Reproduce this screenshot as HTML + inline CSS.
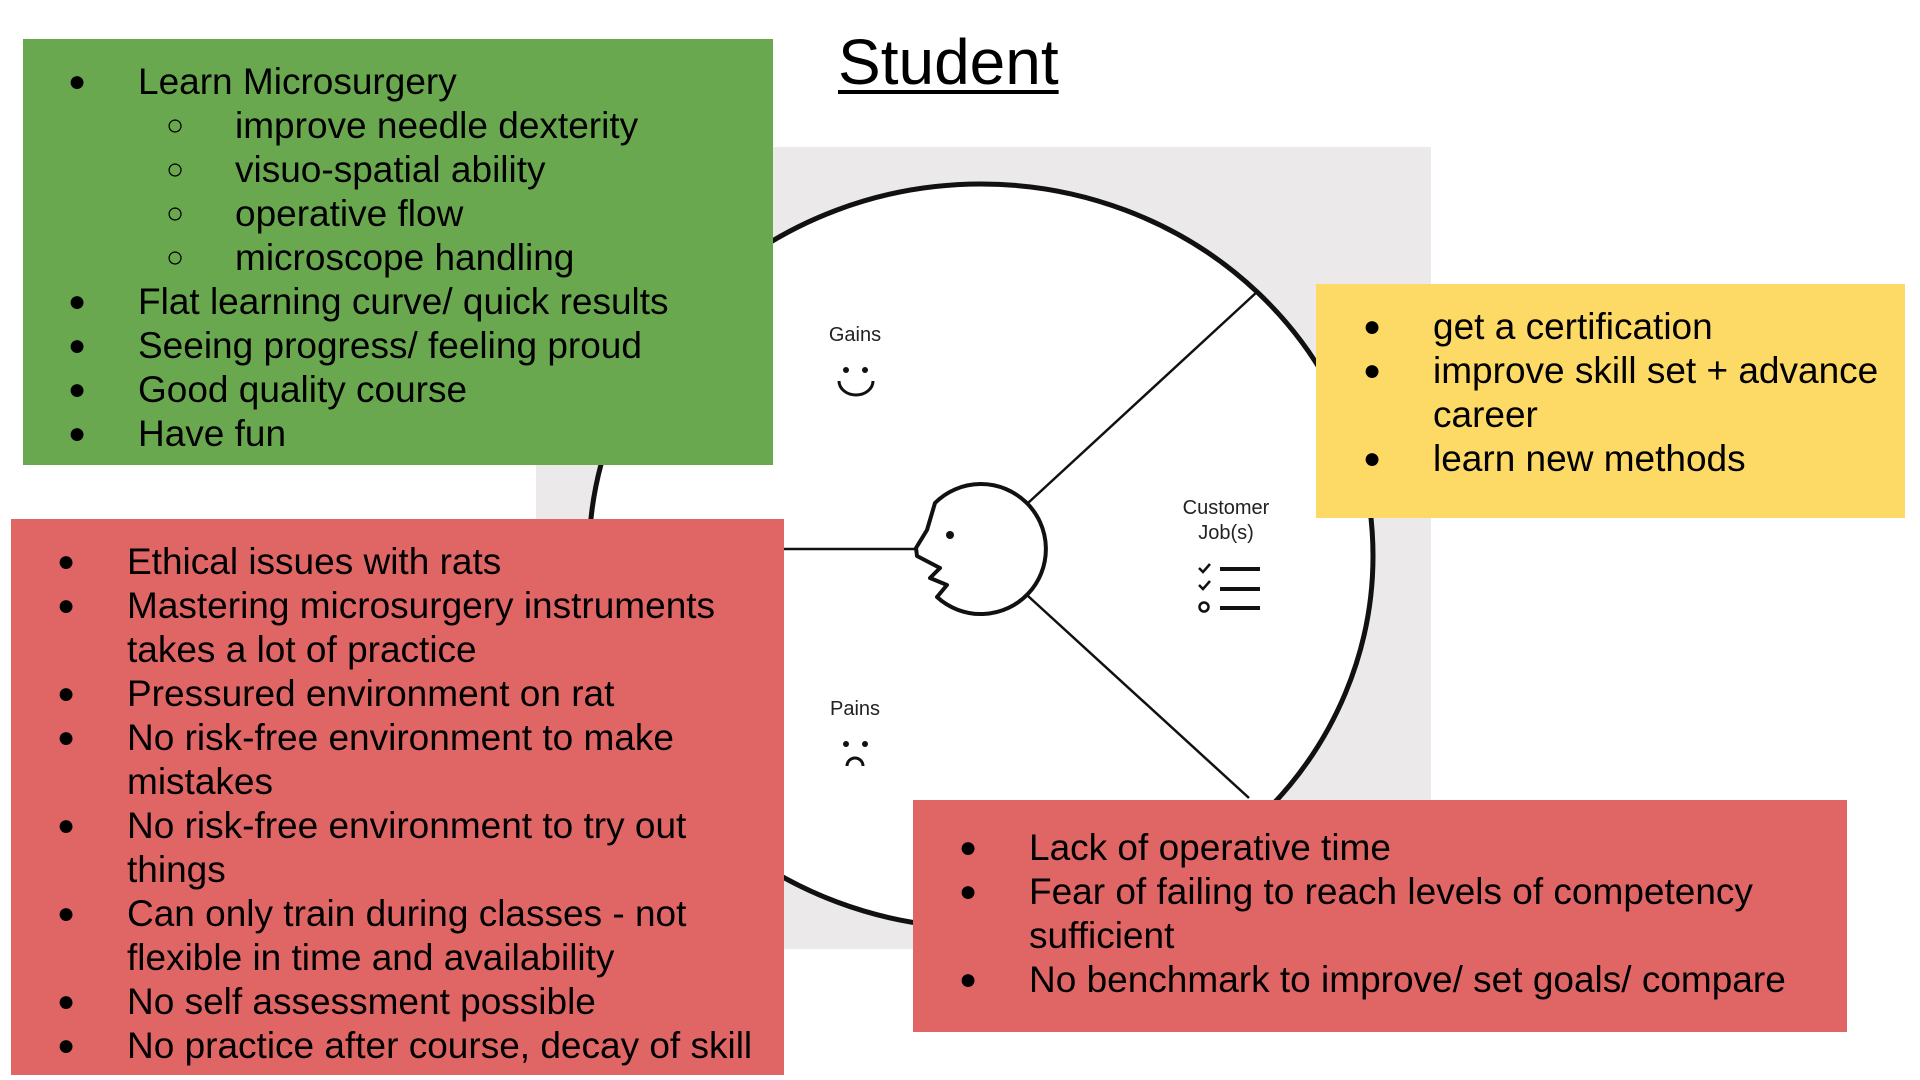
<!DOCTYPE html>
<html><head><meta charset="utf-8"><style>
html,body{margin:0;padding:0;width:1920px;height:1080px;background:#fff;overflow:hidden;position:relative;font-family:"Liberation Sans",Arial,sans-serif;}
.box{position:absolute;}
.t{position:absolute;font-size:37px;line-height:44px;color:#000;white-space:nowrap;}
.b{position:absolute;font-size:30px;line-height:44px;}
svg{position:absolute;left:0;top:0;}
.lbl{position:absolute;font-size:20px;color:#222;text-align:center;line-height:25px;}
</style></head><body>
<svg width="1920" height="1080">
<rect x="536" y="147" width="895" height="802" fill="#ebe9ea"/>
<ellipse cx="981" cy="556" rx="392" ry="372" fill="#fff" stroke="#111" stroke-width="5"/>
<line x1="1028" y1="503" x2="1258" y2="291" stroke="#111" stroke-width="2.5"/>
<line x1="1028" y1="596" x2="1249" y2="798" stroke="#111" stroke-width="2.5"/>
<line x1="784" y1="549" x2="916" y2="549" stroke="#111" stroke-width="2.5"/>
<path d="M935,503 A65,65 0 1 1 937,597 L947,585 L930,578 L940,568 L917,556 L916,548 L927,530 Z" fill="#fff" stroke="#111" stroke-width="4" stroke-linejoin="round"/>
<circle cx="950" cy="535" r="4" fill="#111"/>
<circle cx="846" cy="370" r="3" fill="#111"/><circle cx="865" cy="370" r="3" fill="#111"/>
<path d="M839,381 A17,14 0 0 0 873,381" fill="none" stroke="#111" stroke-width="3"/>
<circle cx="846" cy="744" r="3" fill="#111"/><circle cx="865" cy="744" r="3" fill="#111"/>
<path d="M847,766 A8,8 0 0 1 863,766" fill="none" stroke="#111" stroke-width="3"/>
<path d="M1199,568 l4,4 l7,-8 M1199,585 l4,4 l7,-8" fill="none" stroke="#111" stroke-width="2.5"/>
<circle cx="1204" cy="607" r="4.5" fill="none" stroke="#111" stroke-width="2.5"/>
<rect x="1220" y="567" width="40" height="4" fill="#111"/>
<rect x="1220" y="587" width="40" height="4" fill="#111"/>
<rect x="1220" y="606" width="40" height="4" fill="#111"/>
</svg>
<div class="lbl" style="left:805px;top:323px;width:100px;">Gains</div>
<div class="lbl" style="left:805px;top:697px;width:100px;">Pains</div>
<div class="lbl" style="left:1156px;top:496px;width:140px;">Customer<br>Job(s)</div>

<div style="position:absolute;left:838px;top:22px;font-size:64px;line-height:80px;text-decoration:underline;text-decoration-thickness:4px;text-underline-offset:6px;">Student</div>

<div class="box" style="left:23px;top:39px;width:750px;height:426px;background:#6aa84f;"></div>
<div class="box" style="left:1316px;top:284px;width:589px;height:234px;background:#fdd966;"></div>
<div class="box" style="left:11px;top:519px;width:773px;height:556px;background:#e06666;"></div>
<div class="box" style="left:913px;top:800px;width:934px;height:232px;background:#e06666;"></div>

<!-- green -->
<div class="b" style="left:68px;top:60px;">●<br><br><br><br><br>●<br>●<br>●<br>●</div>
<div class="b" style="left:166px;top:60px;"><br>○<br>○<br>○<br>○</div>
<div class="t" style="left:138px;top:60px;">Learn Microsurgery</div>
<div class="t" style="left:235px;top:104px;">improve needle dexterity<br>visuo-spatial ability<br>operative flow<br>microscope handling</div>
<div class="t" style="left:138px;top:280px;">Flat learning curve/ quick results<br>Seeing progress/ feeling proud<br>Good quality course<br>Have fun</div>

<!-- yellow -->
<div class="b" style="left:1363px;top:305px;">●<br>●<br><br>●</div>
<div class="t" style="left:1433px;top:305px;">get a certification<br>improve skill set + advance<br>career<br>learn new methods</div>

<!-- red left -->
<div class="b" style="left:57px;top:540px;">●<br>●<br><br>●<br>●<br><br>●<br><br>●<br><br>●<br>●</div>
<div class="t" style="left:127px;top:540px;">Ethical issues with rats<br>Mastering microsurgery instruments<br>takes a lot of practice<br>Pressured environment on rat<br>No risk-free environment to make<br>mistakes<br>No risk-free environment to try out<br>things<br>Can only train during classes - not<br>flexible in time and availability<br>No self assessment possible<br>No practice after course, decay of skill</div>

<!-- red right -->
<div class="b" style="left:959px;top:826px;">●<br>●<br><br>●</div>
<div class="t" style="left:1029px;top:826px;">Lack of operative time<br>Fear of failing to reach levels of competency<br>sufficient<br>No benchmark to improve/ set goals/ compare</div>
</body></html>
